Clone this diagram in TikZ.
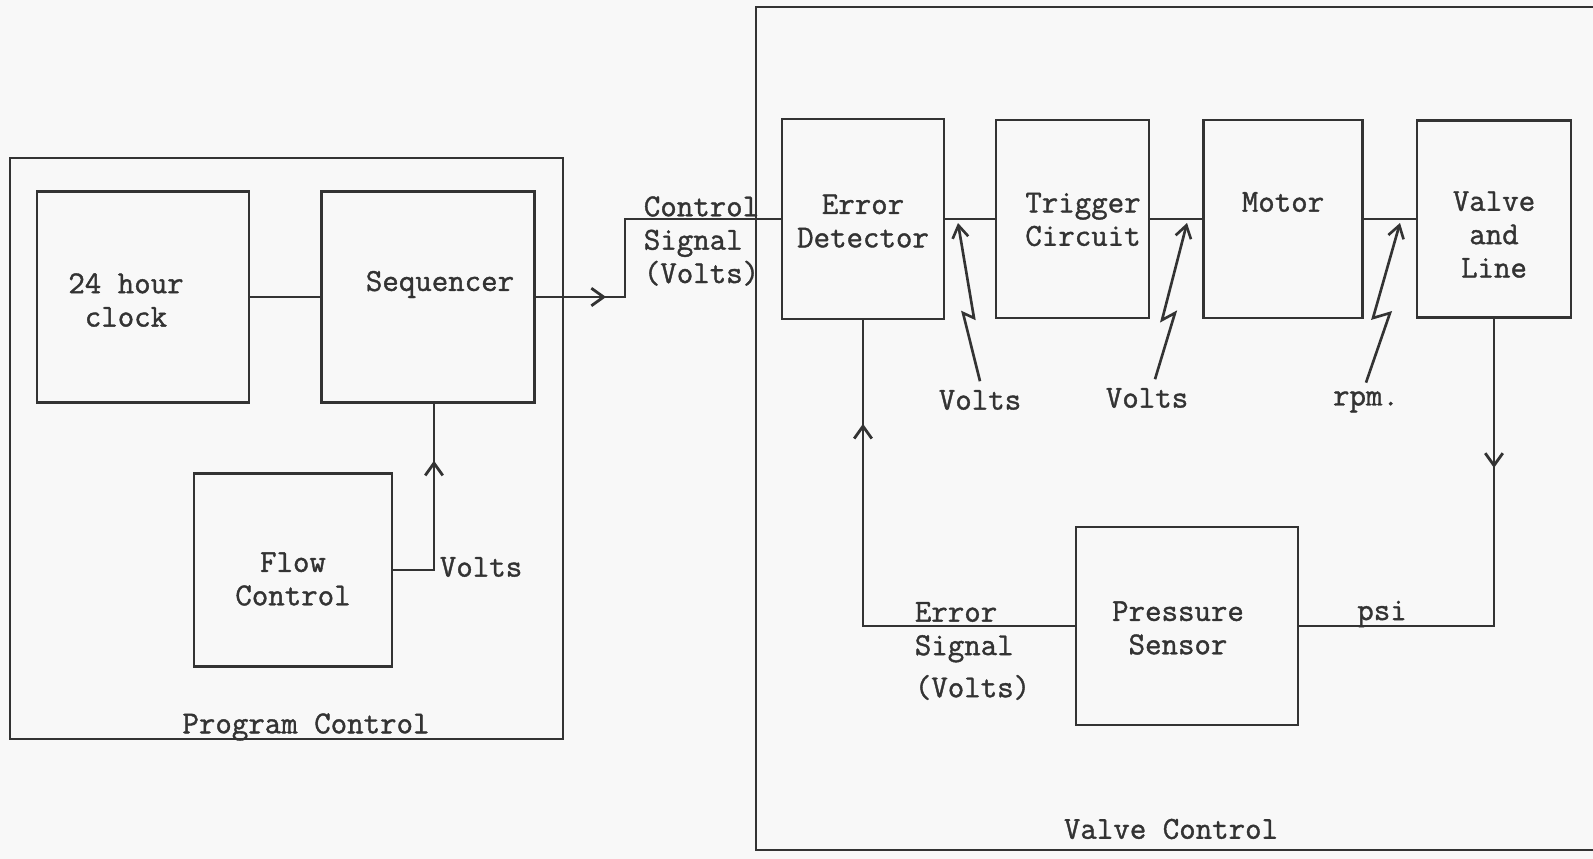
\documentclass[tikz,border=0pt]{standalone}
\usepackage{fontspec}
\newfontfamily\typerfont{Latin Modern Mono}[FakeBold=1.2]
\usetikzlibrary{arrows.meta, positioning, calc, decorations.markings}
\definecolor{ink}{HTML}{333333}
\definecolor{paper}{HTML}{F8F8F8}

\begin{document}
\begin{tikzpicture}[
  x=0.02cm, y=-0.02cm,
  every node/.style={font=\typerfont\fontsize{18.2}{19}\selectfont,
    text=ink, align=center, inner sep=2pt},
  blockbox/.style={draw=ink, line width=1.6pt, inner sep=0pt},
  framebox/.style={draw=ink, line width=1.6pt, inner sep=0pt},
  wire/.style={draw=ink, line width=1.6pt},
  bolt/.style={draw=ink, line width=1.5pt,
    -{Straight Barb[length=7pt,width=9pt]}},
  midarr/.style={postaction={decorate}, decoration={markings,
    mark=at position #1 with {\arrow{Straight Barb[length=7pt,width=10pt]}}}},
]
\path[use as bounding box, fill=paper] (0,0) rectangle (1593,859);

% program control
\node[framebox, minimum width=11.06cm, minimum height=11.62cm] (pc) at (286.5,448.5) {};
\node (pclab) at (306,727) {Program Control};
\node[blockbox, minimum width=4.24cm, minimum height=4.22cm,
  label={[xshift=-0.34cm, yshift=-0.06cm]center:24 hour\\clock}] (clk) at (143,297) {};
\node[blockbox, minimum width=4.25cm, minimum height=4.23cm,
  label={[xshift=0.24cm, yshift=0.25cm]center:Sequencer}] (seq) at (428,297) {};
\node[blockbox, minimum width=3.96cm, minimum height=3.85cm,
  label={[yshift=-0.18cm]center:Flow\\Control}] (fc) at (293,570) {};
\node[anchor=west] (fcv) at (436,567) {Volts};

\draw[wire] (clk.east) -- (seq.west);
\draw[wire, midarr=0.726] (fc.east) -| ([xshift=0.12cm]seq.south);

% valve control
\draw[wire] (1600,7) -- (756,7) -- (756,850) -- (1600,850);
\node (vclab) at (1171,829) {Valve Control};
\node[blockbox, minimum width=3.24cm, minimum height=4.0cm,
  label={[yshift=-0.04cm]center:Error\\Detector}] (ed) at (863,219) {};
\node[blockbox, minimum width=3.06cm, minimum height=3.96cm,
  label={[xshift=0.21cm, yshift=-0.01cm]center:Trigger\\Circuit}] (tc) at (1072.5,219) {};
\node[blockbox, minimum width=3.19cm, minimum height=3.96cm,
  label={[yshift=0.34cm]center:Motor}] (mot) at (1283,219) {};
\node[blockbox, minimum width=3.08cm, minimum height=3.94cm,
  label={[yshift=-0.31cm]center:Valve\\and\\Line}] (val) at (1494,219) {};
\node[blockbox, minimum width=4.44cm, minimum height=3.96cm,
  label={[xshift=-0.18cm, yshift=-0.04cm]center:Pressure\\Sensor}] (ps) at (1187,626) {};

\coordinate (csig) at (625,297);
\draw[wire, midarr=0.218] (seq.east) -- (csig) |- (ed.west);
\node[align=left, inner sep=0pt] (cslab) at (701.5,241) {Control\\Signal\\(Volts)};

\draw[wire] (ed.east) -- (tc.west);
\draw[wire] (tc.east) -- (mot.west);
\draw[wire] (mot.east) -- (val.west);

\draw[wire, midarr=0.297] (val.south) |- (ps.east);
\node (psi) at (1382,614) {psi};
\draw[wire, midarr=0.80] (ps.west) -| (ed.south);
\node[align=left, inner sep=0pt] (eslab) at (972.5,651) {Error\\Signal\\[5pt](Volts)};

% signal bolts
\node (v1) at (980,400) {Volts};
\node (v2) at (1147,398) {Volts};
\node (v3) at (1366,402) {rpm.};
\coordinate (t1) at (958,223);
\coordinate (t2) at (1187,223);
\coordinate (t3) at (1400,223);
\draw[bolt] ([yshift=0.1cm]v1.north) -- (963,313) -- (974,318) -- (t1);
\draw[bolt] ([xshift=0.16cm, yshift=0.1cm]v2.north) -- (1175,313) -- (1162,320) -- (t2);
\draw[bolt] ([yshift=0.1cm]v3.north) -- (1390,313) -- (1373,318) -- (t3);
\end{tikzpicture}
\end{document}
